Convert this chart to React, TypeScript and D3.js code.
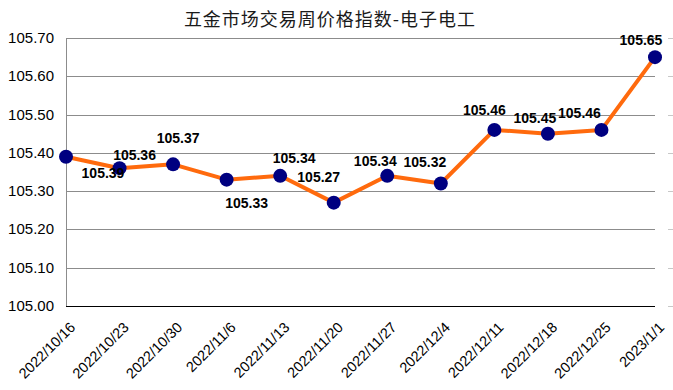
import * as d3 from "d3";
import { useEffect, useRef } from "react";

const dates = [
  "2022/10/16", "2022/10/23", "2022/10/30", "2022/11/6", "2022/11/13", "2022/11/20",
  "2022/11/27", "2022/12/4", "2022/12/11", "2022/12/18", "2022/12/25", "2023/1/1",
];
const values = [105.39, 105.36, 105.37, 105.33, 105.34, 105.27, 105.34, 105.32, 105.46, 105.45, 105.46, 105.65];
const yTicks = [105.0, 105.1, 105.2, 105.3, 105.4, 105.5, 105.6, 105.7];

// label offsets (dx, dy) of the label centre from its point, as in the original chart
const labelOffsets: [number, number][] = [
  [37, 16], [15, -13], [5, -26], [20, 23], [14, -18], [-15, -26],
  [-12, -15], [-16, -21], [-10, -20], [-13, -16], [-22, -17], [-14, -17],
];

const App = () => {
  const ref = useRef<SVGSVGElement>(null);

  useEffect(() => {
    const svg = d3.select(ref.current);
    svg.selectAll("*").remove();

    const width = 673;
    const height = 390;
    const margin = { top: 38, right: 18, bottom: 84, left: 66 };
    const innerWidth = width - margin.left - margin.right;
    const innerHeight = height - margin.top - margin.bottom;
    const font = "'Liberation Sans', Arial, sans-serif";

    svg.attr("width", width).attr("height", height);
    svg.append("rect").attr("width", width).attr("height", height).attr("fill", "#fff");

    // заголовок
    svg.append("text")
      .attr("x", 330)
      .attr("y", 26)
      .attr("text-anchor", "middle")
      .style("font-family", "'Noto Sans CJK SC', sans-serif")
      .style("font-size", "18px")
      .style("letter-spacing", "1px")
      .attr("fill", "#1a1a1a")
      .text("五金市场交易周价格指数-电子电工");

    const g = svg.append("g").attr("transform", `translate(${margin.left},${margin.top})`);

    const x = d3.scalePoint().domain(dates).range([0, innerWidth]);
    const y = d3.scaleLinear().domain([105.0, 105.7]).range([innerHeight, 0]);

    // сетка
    g.selectAll(".grid")
      .data(yTicks.slice(1))
      .enter()
      .append("line")
      .attr("x1", 0)
      .attr("x2", innerWidth)
      .attr("y1", d => Math.round(y(d)) + 0.5)
      .attr("y2", d => Math.round(y(d)) + 0.5)
      .attr("stroke", "#8c8c8c")
      .attr("stroke-width", 1);

    // мелкие засечки справа
    svg.selectAll(".rtick")
      .data(yTicks)
      .enter()
      .append("line")
      .attr("x1", 668)
      .attr("x2", 673)
      .attr("y1", d => margin.top + Math.round(y(d)) + 0.5)
      .attr("y2", d => margin.top + Math.round(y(d)) + 0.5)
      .attr("stroke", "#c8c8c8");

    // левая ось
    g.append("line")
      .attr("x1", 0.5).attr("x2", 0.5)
      .attr("y1", 0).attr("y2", innerHeight)
      .attr("stroke", "#8c8c8c");

    // нижняя ось
    g.append("line")
      .attr("x1", 0).attr("x2", innerWidth)
      .attr("y1", innerHeight + 0.5).attr("y2", innerHeight + 0.5)
      .attr("stroke", "#000");

    // подписи оси Y
    g.selectAll(".ylab")
      .data(yTicks)
      .enter()
      .append("text")
      .attr("x", -12)
      .attr("y", d => y(d) + 5)
      .attr("text-anchor", "end")
      .style("font-family", font)
      .style("font-size", "15px")
      .attr("fill", "#000")
      .text(d => d.toFixed(2));

    // подписи оси X
    g.selectAll(".xlab")
      .data(dates)
      .enter()
      .append("text")
      .attr("transform", d => `translate(${(x(d) as number) + 3},${innerHeight + 15}) rotate(-45)`)
      .attr("text-anchor", "end")
      .attr("dy", "0.7em")
      .style("font-family", font)
      .style("font-size", "14.5px")
      .attr("fill", "#000")
      .text(d => d);

    // линия
    const line = d3.line<number>()
      .x((_, i) => x(dates[i]) as number)
      .y(d => y(d));

    g.append("path")
      .datum(values)
      .attr("d", line)
      .attr("fill", "none")
      .attr("stroke", "#ff6a0d")
      .attr("stroke-width", 4)
      .attr("stroke-linejoin", "round");

    // точки
    g.selectAll(".dot")
      .data(values)
      .enter()
      .append("circle")
      .attr("cx", (_, i) => x(dates[i]) as number)
      .attr("cy", d => y(d))
      .attr("r", 7)
      .attr("fill", "#000080");

    // подписи значений
    g.selectAll(".vlab")
      .data(values)
      .enter()
      .append("text")
      .attr("x", (_, i) => (x(dates[i]) as number) + labelOffsets[i][0])
      .attr("y", (d, i) => y(d) + labelOffsets[i][1] + 5)
      .attr("text-anchor", "middle")
      .style("font-family", font)
      .style("font-size", "14px")
      .style("font-weight", "bold")
      .attr("fill", "#000")
      .text(d => d.toFixed(2));
  }, []);

  return <svg ref={ref} width="673" height="390" style={{ position: "absolute", left: 0, top: 0 }}></svg>;
};

export default App;
